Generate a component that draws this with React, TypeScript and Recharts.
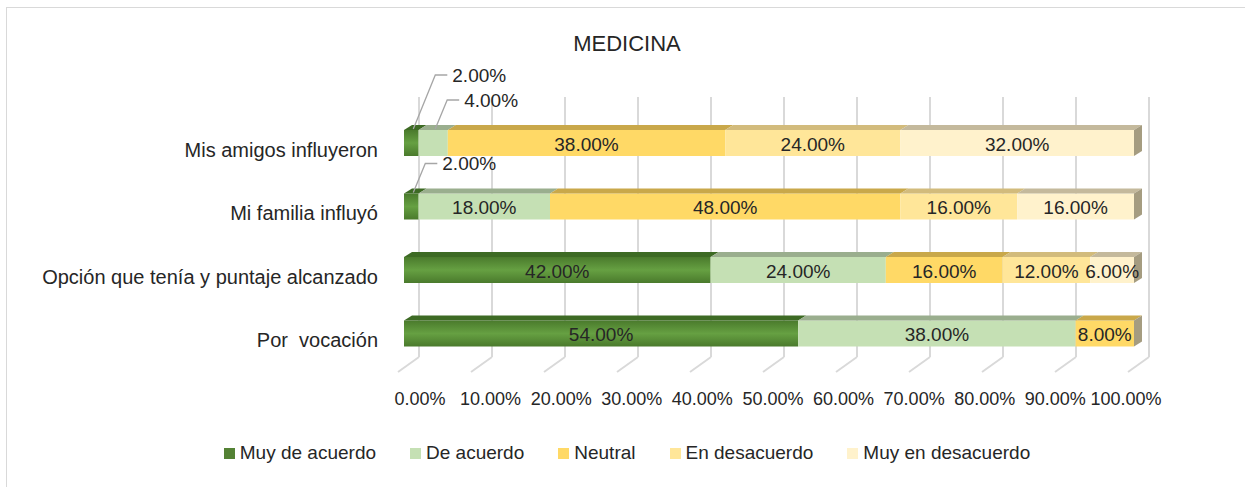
import { BarChart, Bar, XAxis, YAxis, CartesianGrid, Legend, LabelList } from 'recharts'

const categories = [
  'Mis amigos influyeron',
  'Mi familia influyó',
  'Opción que tenía y puntaje alcanzado',
  'Por  vocación',
]
const muyDeAcuerdo = [2, 2, 42, 54]
const deAcuerdo = [4, 18, 24, 38]
const neutral = [38, 48, 16, 8]
const enDesacuerdo = [24, 16, 12, 0]
const muyEnDesacuerdo = [32, 16, 6, 0]
const xTicks = [0, 10, 20, 30, 40, 50, 60, 70, 80, 90, 100]

const series = [
  { key: 'muyDeAcuerdo', name: 'Muy de acuerdo', values: muyDeAcuerdo, fill: '#548235', top: '#3d6a24' },
  { key: 'deAcuerdo', name: 'De acuerdo', values: deAcuerdo, fill: '#c5e0b4', top: '#9aae8e' },
  { key: 'neutral', name: 'Neutral', values: neutral, fill: '#ffd966', top: '#c9a84a' },
  { key: 'enDesacuerdo', name: 'En desacuerdo', values: enDesacuerdo, fill: '#ffe699', top: '#d2bb7c' },
  { key: 'muyEnDesacuerdo', name: 'Muy en desacuerdo', values: muyEnDesacuerdo, fill: '#fff2cc', top: '#c4b99c' },
]

const data = categories.map((name, i) => {
  const row: Record<string, string | number> = { name }
  series.forEach((s) => (row[s.key] = s.values[i]))
  return row
})

const FONT = '"Liberation Sans", Arial, sans-serif'
const TEXT = '#262626'
const DX = 8
const DY = 5

const isLastInRow = (row: any, idx: number) =>
  series.slice(idx + 1).every((s) => !(row[s.key] > 0))

const makeShape = (idx: number) => (props: any) => {
  const { x, y, width, height, payload } = props
  if (!width || width <= 0) return <g />
  const s = series[idx]
  const front = idx === 0 ? 'url(#greenGrad)' : s.fill
  return (
    <g>
      <rect x={x} y={y} width={width} height={height} fill={front} />
      <polygon
        points={`${x},${y} ${x + width},${y} ${x + width + DX},${y - DY} ${x + DX},${y - DY}`}
        fill={s.top}
      />
      {isLastInRow(payload, idx) && (
        <polygon
          points={`${x + width},${y} ${x + width + DX},${y - DY} ${x + width + DX},${y + height - DY} ${x + width},${y + height}`}
          fill="#a59c80"
        />
      )}
    </g>
  )
}

const makeLabel = (idx: number) => (props: any) => {
  const { x, y, width, height, value, index } = props
  if (!value) return null
  const txt = `${Number(value).toFixed(2)}%`
  if (value >= 5) {
    return (
      <text x={x + width / 2} y={y + height / 2 + 1} textAnchor="middle" dominantBaseline="central"
        fontFamily={FONT} fontSize={19} fill={TEXT}>
        {txt}
      </text>
    )
  }
  const row = data[index]
  const after = series.slice(idx + 1).filter((s) => (row[s.key] as number) > 0 && (row[s.key] as number) < 5).length
  const rise = 30 + 25 * after
  const cx = x + width / 2 + 2
  const ex = cx + rise * 0.4
  const ey = y - rise
  return (
    <g>
      <polyline points={`${cx},${y - 1} ${ex},${ey} ${ex + 12},${ey}`} fill="none" stroke="#a6a6a6" strokeWidth={1.3} />
      <text x={ex + 17} y={ey} dominantBaseline="central" fontFamily={FONT} fontSize={19} fill={TEXT}>
        {txt}
      </text>
    </g>
  )
}

const XTick = ({ x, y, payload }: any) => (
  <text x={413 + (x - 397) * 0.967} y={y + 26} textAnchor="middle" dominantBaseline="central"
    fontFamily={FONT} fontSize={18} fill={TEXT}>
    {`${Number(payload.value).toFixed(2)}%`}
  </text>
)

const YTick = ({ y, payload }: any) => (
  <text x={371} y={y + 7} textAnchor="end" dominantBaseline="central"
    fontFamily={FONT} fontSize={20} fill={TEXT} style={{ whiteSpace: 'pre' }}>
    {payload.value}
  </text>
)

const gridLine = (p: any) => (
  <g key={p.key}>
    <line x1={p.x1 + 15} y1={p.y1 - 14} x2={p.x1 + 15} y2={p.y2 - 8} stroke="#d9d9d9" strokeWidth={2} />
    <line x1={p.x1 + 15} y1={p.y2 - 8} x2={p.x1 - 6} y2={p.y2 + 7} stroke="#d9d9d9" strokeWidth={2} />
  </g>
)

const LegendContent = ({ payload }: any) => {
  const items = [...(payload || [])].sort(
    (a: any, b: any) => series.findIndex((s) => s.name === a.value) - series.findIndex((s) => s.name === b.value),
  )
  return (
    <div style={{ display: 'flex', justifyContent: 'center', gap: 34, fontFamily: FONT, fontSize: 19, color: TEXT }}>
      {items.map((p: any) => (
        <div key={p.value} style={{ display: 'flex', alignItems: 'center' }}>
          <span style={{ width: 11, height: 11, background: p.color, marginRight: 5, display: 'inline-block' }} />
          <span>{p.value}</span>
        </div>
      ))}
    </div>
  )
}

export default function App() {
  return (
    <div style={{ position: 'absolute', left: 6, top: 7, width: 1250, height: 490, border: '1px solid #d9d9d9', background: '#fff' }}>
      <div style={{ position: 'absolute', left: 0, width: 1240, top: 23, textAlign: 'center', fontFamily: FONT, fontSize: 22, color: TEXT }}>
        MEDICINA
      </div>
      <BarChart width={1240} height={480} data={data} layout="vertical"
        margin={{ top: 103, right: 113, left: 0, bottom: 83 }} barSize={26}>
        <defs>
          <linearGradient id="greenGrad" x1="0" y1="0" x2="0" y2="1">
            <stop offset="0%" stopColor="#4a7a2c" />
            <stop offset="50%" stopColor="#66a042" />
            <stop offset="100%" stopColor="#4a7a2c" />
          </linearGradient>
        </defs>
        <CartesianGrid horizontal={false} vertical={gridLine} />
        <XAxis type="number" domain={[0, 100]} ticks={xTicks} axisLine={false} tickLine={false}
          height={40} tick={<XTick />} interval={0} />
        <YAxis type="category" dataKey="name" width={397} axisLine={false} tickLine={false} tick={<YTick />} />
        <Legend verticalAlign="middle" align="center" content={<LegendContent />}
          wrapperStyle={{ top: 434, left: 0, width: 1240 }} />
        {series.map((s, i) => (
          <Bar key={s.key} dataKey={s.key} name={s.name} stackId="a" fill={s.fill}
            shape={makeShape(i)} isAnimationActive={false}>
            <LabelList dataKey={s.key} content={makeLabel(i)} />
          </Bar>
        ))}
      </BarChart>
    </div>
  )
}
